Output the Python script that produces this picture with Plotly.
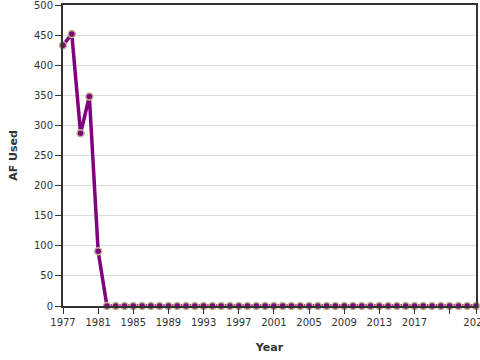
import plotly.graph_objects as go

years = list(range(1977, 2025))
af_used = [433, 452, 287, 348, 91] + [0] * (len(years) - 5)

x_tickvals = [1977, 1981, 1985, 1989, 1993, 1997, 2001, 2005, 2009, 2013, 2017, 2021, 2024]
x_ticktext = ["1977", "1981", "1985", "1989", "1993", "1997", "2001", "2005", "2009", "2013", "2017", "", "2024"]
y_tickvals = [0, 50, 100, 150, 200, 250, 300, 350, 400, 450, 500]

fig = go.Figure()
fig.add_trace(go.Scatter(
    x=years, y=af_used, mode="lines+markers",
    line=dict(color="#800080", width=3.5),
    marker=dict(color="#800080", size=7, line=dict(color="#bdb58c", width=1.5)),
    cliponaxis=False,
))

font = "DejaVu Sans, Verdana, sans-serif"
fig.update_layout(
    width=480, height=360,
    margin=dict(l=63, r=4, t=5, b=54, autoexpand=False),
    plot_bgcolor="white", paper_bgcolor="white",
    showlegend=False,
    font=dict(family=font, size=10, color="#333"),
)
fig.update_xaxes(
    range=[1977, 2024], tickvals=x_tickvals, ticktext=x_ticktext,
    showgrid=False, zeroline=False, automargin=False, ticklabeloverflow="allow",
    showline=True, linecolor="#333", linewidth=2, mirror=True,
    ticks="outside", ticklen=6, tickcolor="#333", tickwidth=1,
    tickfont=dict(size=10, color="#333"),
    title=dict(text="<b>Year</b>", font=dict(size=11, color="#333"), standoff=16),
)
fig.update_yaxes(
    range=[0, 500], tickvals=y_tickvals,
    showgrid=True, gridcolor="#ddd", gridwidth=1, zeroline=False, automargin=False,
    ticklabeloverflow="allow",
    showline=True, linecolor="#333", linewidth=2, mirror=True,
    ticks="outside", ticklen=6, tickcolor="#333", tickwidth=1,
    tickfont=dict(size=10, color="#333"),
    title=dict(text="<b>AF Used</b>", font=dict(size=11, color="#333"), standoff=14),
)

fig.write_html(
    "out.html",
    config={"displayModeBar": False},
    post_script="document.body.style.margin='0';document.body.style.overflow='hidden';",
)
